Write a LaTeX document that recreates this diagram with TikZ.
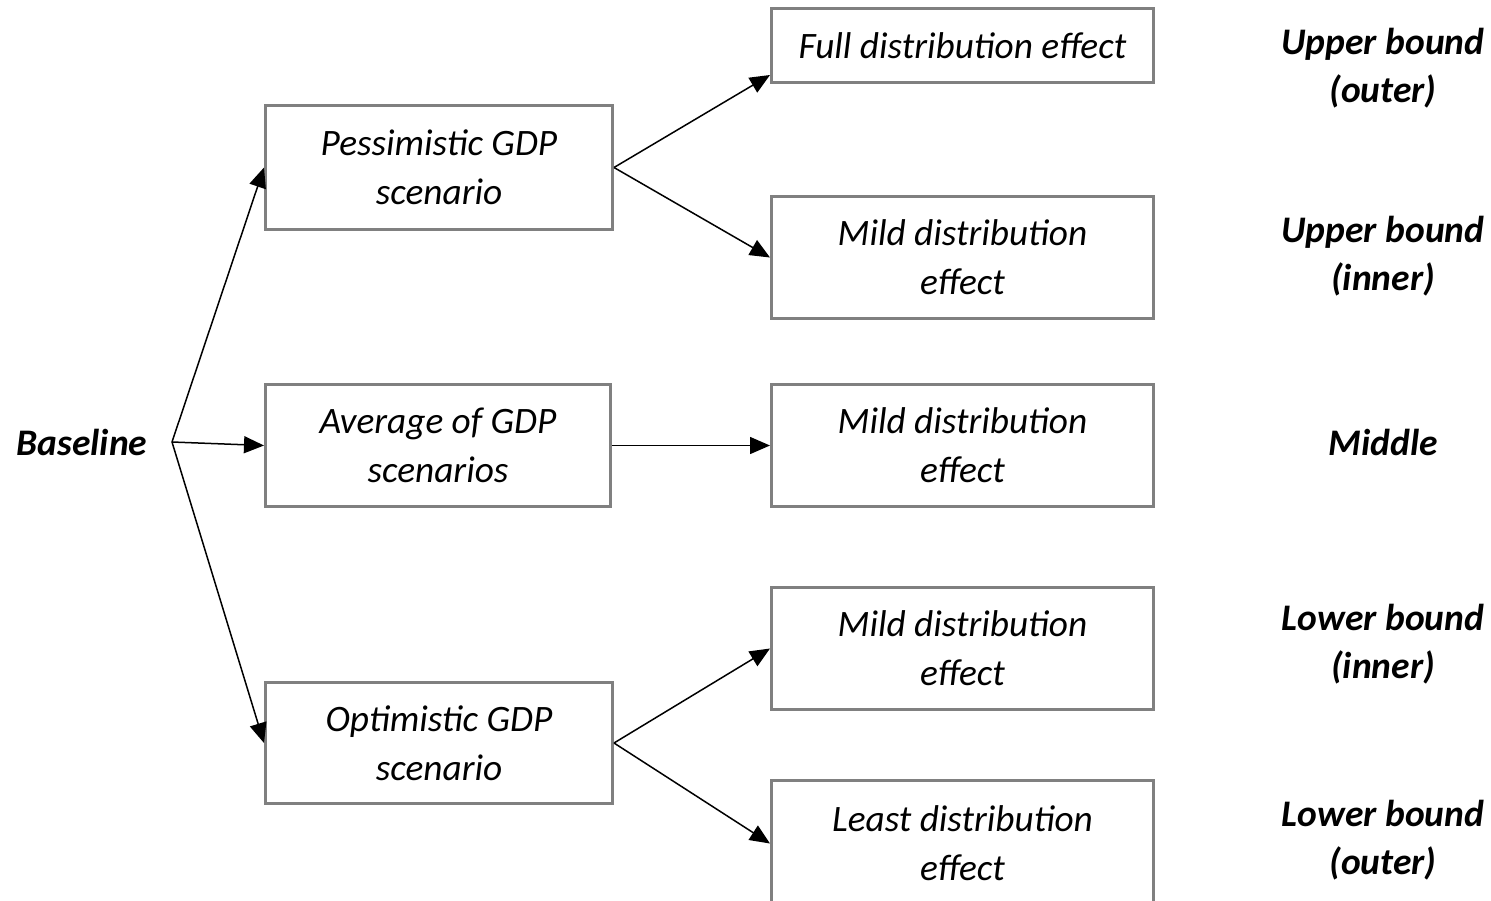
\documentclass[tikz,border=0pt]{standalone}
\usepackage{fontspec}
\setmainfont{Carlito}
\usetikzlibrary{arrows.meta}
\definecolor{boxgray}{RGB}{128,128,128}
\begin{document}
\begin{tikzpicture}[x=1pt,y=-1pt,
  box/.style={draw=boxgray, line width=3pt, anchor=north west, align=center, inner sep=0pt,
    font=\fontsize{37.3}{49}\selectfont\itshape},
  lab/.style={align=center, font=\fontsize{37.5}{48}\selectfont\bfseries\itshape},
  arr/.style={-{Triangle[length=20pt,width=17pt]}, line width=1.5pt}]
\useasboundingbox (0,0) rectangle (1491,900);
% left label
\node[lab] (base) at (82,442) {Baseline};
\coordinate (bp) at (172,442);
% middle boxes
\node[box, minimum width=347pt, minimum height=124pt] (pess) at (264,104) {Pessimistic GDP\\scenario};
\node[box, minimum width=345pt, minimum height=122pt] (avg) at (264,383) {Average of GDP\\scenarios};
\node[box, minimum width=347pt, minimum height=121pt] (opt) at (264,681) {Optimistic GDP\\scenario};
% right boxes
\node[box, minimum width=382pt, minimum height=74pt] (full) at (770,7) {Full distribution effect};
\node[box, minimum width=382pt, minimum height=122pt] (mild1) at (770,195) {Mild distribution\\effect};
\node[box, minimum width=382pt, minimum height=122pt] (mild2) at (770,383) {Mild distribution\\effect};
\node[box, minimum width=382pt, minimum height=122pt] (mild3) at (770,586) {Mild distribution\\effect};
\node[box, minimum width=382pt, minimum height=126pt] (least) at (770,779) {Least distribution\\effect};
% right labels
\node[lab] (l1) at (1383,68) {Upper bound\\(outer)};
\node[lab] (l2) at (1383,256) {Upper bound\\(inner)};
\node[lab] (l3) at (1383,442) {Middle};
\node[lab] (l4) at (1383,644) {Lower bound\\(inner)};
\node[lab] (l5) at (1383,840) {Lower bound\\(outer)};
% connectors
\draw[arr] (bp) -- (pess.west);
\draw[arr] (bp) -- (avg.west);
\draw[arr] (bp) -- (opt.west);
\draw[arr] (pess.east) -- ([yshift=9pt]full.south west);
\draw[arr] (pess.east) -- (mild1.west);
\draw[arr] (avg.east) -- (mild2.west);
\draw[arr] (opt.east) -- (mild3.west);
\draw[arr] (opt.east) -- (least.west);
\end{tikzpicture}
\end{document}
